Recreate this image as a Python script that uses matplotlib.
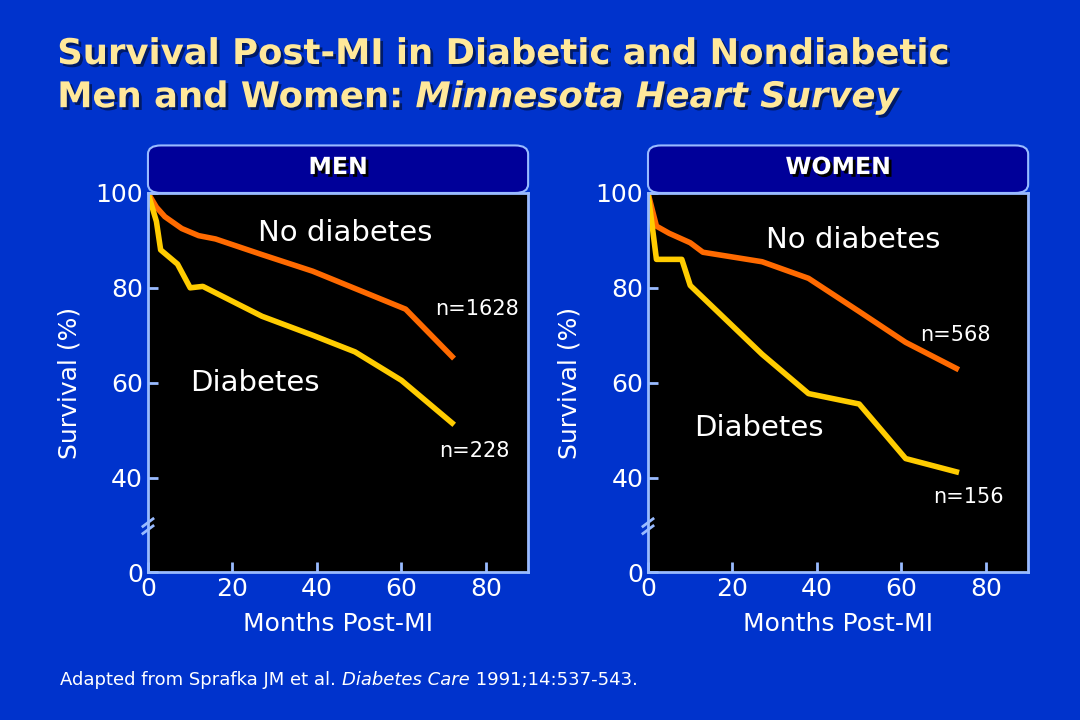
import matplotlib.pyplot as plt
import matplotlib.patheffects as pe
from matplotlib.patches import FancyBboxPatch
from matplotlib.transforms import offset_copy

men_nd_x = [0, 2, 4, 8, 12, 16, 27, 39, 50, 61, 72]
men_nd_y = [100, 97, 95, 92.5, 91, 90.3, 87, 83.5, 79.5, 75.5, 65.5]
men_d_x = [0, 2, 3, 7, 10, 13, 27, 39, 49, 60, 72]
men_d_y = [100, 94, 88, 85, 80, 80.3, 74, 70, 66.5, 60.5, 51.5]
wom_nd_x = [0, 2, 5, 10, 13, 27, 38, 50, 61, 73]
wom_nd_y = [100, 93, 91.5, 89.5, 87.5, 85.5, 82, 75, 68.5, 63]
wom_d_x = [0, 2, 8, 10, 27, 38, 50, 61, 73]
wom_d_y = [100, 86, 86, 80.5, 66, 57.7, 55.5, 44, 41.2]

BG = '#0033cc'
AX = '#99bbff'
fig = plt.figure(figsize=(10.8, 7.2), dpi=100, facecolor=BG)
plt.rcParams['font.family'] = 'DejaVu Sans'
renderer = fig.canvas.get_renderer()


def chain(x, y, parts, **kw):
    # draw text pieces one after another on one line
    tr = fig.transFigure
    dx = 0
    for txt, extra in parts:
        t = fig.text(x, y, txt, transform=offset_copy(tr, fig=fig, x=dx, y=0, units='dots'),
                     va='center', **kw, **extra)
        dx += t.get_window_extent(renderer).width


title_fx = [pe.withSimplePatchShadow(offset=(2, -2), shadow_rgbFace='#001a66', alpha=1)]
tkw = dict(color='#ffe89a', fontsize=25.5, fontweight='bold', path_effects=title_fx)
chain(0.053, 0.925, [('Survival Post-MI in Diabetic and Nondiabetic', {})], **tkw)
chain(0.053, 0.865, [('Men and Women: ', {}), ('Minnesota Heart Survey', {'style': 'italic'})], **tkw)

panels = [
    (0.137, 'MEN', men_nd_x, men_nd_y, men_d_x, men_d_y,
     [(26, 91.5, 'No diabetes', 21), (10, 60, 'Diabetes', 21), (68, 75.5, 'n=1628', 15), (69, 45.5, 'n=228', 15)]),
    (0.600, 'WOMEN', wom_nd_x, wom_nd_y, wom_d_x, wom_d_y,
     [(28, 90, 'No diabetes', 21), (11, 50.5, 'Diabetes', 21), (64.5, 70, 'n=568', 15), (67.5, 36, 'n=156', 15)]),
]
for left, name, ndx, ndy, dx, dy, labels in panels:
    ax = fig.add_axes([left, 0.205, 0.352, 0.527])
    ax.set_facecolor('black')
    ax.plot(ndx, ndy, color='#ff6a00', lw=4, solid_joinstyle='round')
    ax.plot(dx, dy, color='#ffcc00', lw=4, solid_joinstyle='round')
    for x, y, t, fs in labels:
        ax.text(x, y, t, color='white', fontsize=fs, va='center')
    ax.set_xlim(0, 90)
    ax.set_ylim(20, 100)
    ax.set_xticks([0, 20, 40, 60, 80])
    ax.set_yticks([20, 40, 60, 80, 100])
    ax.set_yticklabels(['0', '40', '60', '80', '100'])
    for s in ax.spines.values():
        s.set_color(AX)
        s.set_linewidth(2)
    ax.tick_params(colors=AX, labelcolor='white', labelsize=18, width=2, length=7, direction='in')
    ax.set_xlabel('Months Post-MI', color='white', fontsize=18, labelpad=8)
    ax.set_ylabel('Survival (%)', color='white', fontsize=18, labelpad=10)
    for yy in (29, 30.5):
        ax.plot([-1.2, 1.2], [yy - 0.8, yy + 0.8], color=AX, lw=2, clip_on=False)
    hb = FancyBboxPatch((left, 0.732), 0.352, 0.066, boxstyle='round,pad=0,rounding_size=0.012',
                        transform=fig.transFigure, facecolor='#000099', edgecolor=AX, lw=1.5)
    fig.patches.append(hb)
    fig.text(left + 0.176, 0.768, name, color='white', fontsize=17, fontweight='bold',
             ha='center', va='center',
             path_effects=[pe.withSimplePatchShadow(offset=(2, -2), shadow_rgbFace='black', alpha=1)])

chain(0.056, 0.055, [('Adapted from Sprafka JM et al. ', {}), ('Diabetes Care', {'style': 'italic'}),
                     (' 1991;14:537-543.', {})], color='white', fontsize=13)

fig.savefig('out.png', dpi=100, facecolor=BG)
